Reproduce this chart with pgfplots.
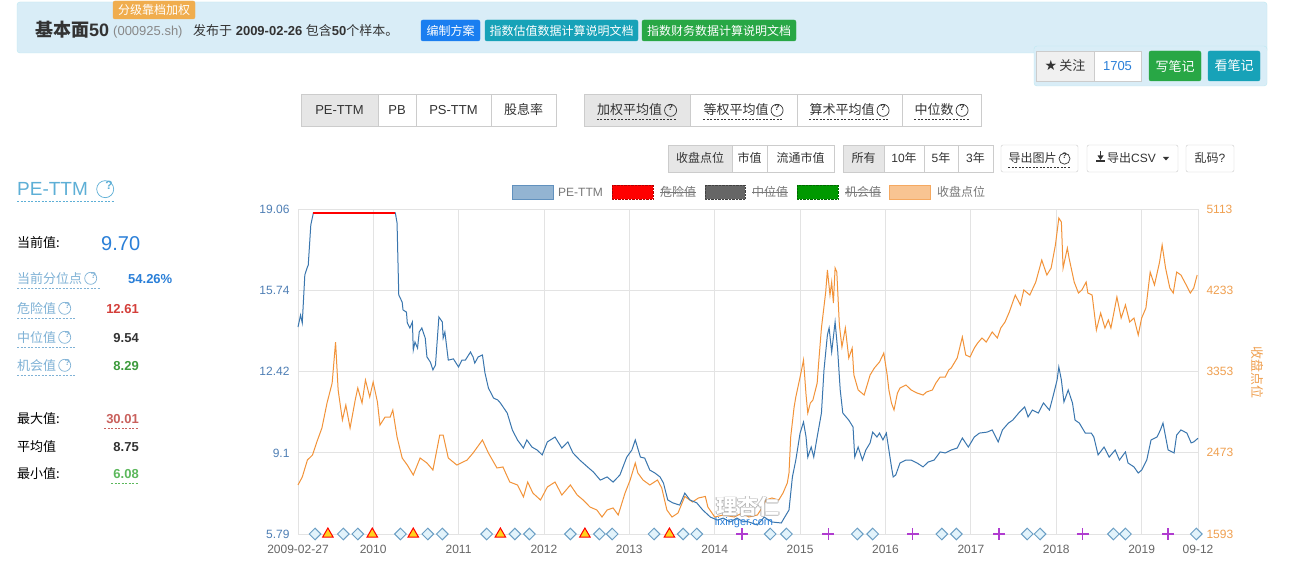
\documentclass[border=0pt]{standalone}
\usepackage{pgfplots}
\pgfplotsset{compat=1.18}
\usepackage{fontspec}
\setmainfont{Liberation Sans}
\newfontfamily\cjk{Noto Sans CJK SC}
\newfontfamily\dejavu{DejaVu Sans}
\newcommand\fs[1]{\fontsize{#1}{#1}\selectfont}
\definecolor{peblue}{HTML}{3A76AE}
\definecolor{closeor}{HTML}{F29339}
\definecolor{gridc}{HTML}{E3E3E3}
\definecolor{leftlab}{HTML}{4F7FB5}
\definecolor{rightlab}{HTML}{F0A050}
\definecolor{xlab}{HTML}{666666}
\definecolor{infobg}{HTML}{D9EDF7}
\definecolor{infobd}{HTML}{BCE8F1}
\definecolor{bd}{HTML}{CCCCCC}
\definecolor{act}{HTML}{E6E6E6}
\definecolor{txt}{HTML}{333333}
\definecolor{grey8}{HTML}{888888}
\definecolor{lblue}{HTML}{7FB2D6}
\definecolor{tblue}{HTML}{5DAFD6}
\definecolor{vblue}{HTML}{2A7FD8}
\definecolor{vred}{HTML}{D43F3A}
\definecolor{vred2}{HTML}{C9605C}
\definecolor{vgreen}{HTML}{3D9B3D}
\definecolor{vgreen2}{HTML}{5CB85C}
\definecolor{btnblue}{HTML}{1A7EF0}
\definecolor{btnteal}{HTML}{17A2B8}
\definecolor{btngreen}{HTML}{28A745}
\definecolor{badge}{HTML}{F0AD4E}
\definecolor{diafill}{HTML}{E2F3FB}
\definecolor{diaedge}{HTML}{6A9EC4}
\definecolor{triyel}{HTML}{FFD21F}
\definecolor{plusc}{HTML}{B03CD0}
\definecolor{legtxt}{HTML}{777777}
% circled question mark: color, radius, font size
\newcommand\qm[3]{\,\tikz[baseline=-0.36em]{\draw[#1,line width=0.7pt] (0,0) circle (#2pt); \node[text=#1,font=\fs{#3}\bfseries,inner sep=0] at (0,0) {?};}}

\pgfplotstableread{
x y
2009.12 2124
2009.17 2210
2009.23 2394
2009.29 2449
2009.34 2589
2009.40 2741
2009.46 3012
2009.52 3228
2009.56 3672
2009.59 3153
2009.64 2828
2009.68 2990
2009.73 2741
2009.79 3044
2009.82 3174
2009.87 3012
2009.91 3261
2009.96 3077
2010.00 3239
2010.05 3023
2010.08 2773
2010.14 2860
2010.20 2860
2010.23 2936
2010.28 2644
2010.34 2416
2010.40 2340
2010.47 2232
2010.55 2416
2010.63 2362
2010.70 2286
2010.78 2665
2010.82 2665
2010.88 2416
2010.98 2340
2011.10 2394
2011.17 2470
2011.28 2611
2011.35 2470
2011.45 2308
2011.52 2319
2011.60 2156
2011.69 2124
2011.76 1994
2011.81 2156
2011.87 2037
2011.96 1961
2012.04 2102
2012.13 2156
2012.21 2015
2012.31 2124
2012.39 2015
2012.46 1961
2012.54 1885
2012.62 1853
2012.68 1777
2012.74 1853
2012.81 1875
2012.87 1799
2012.95 2037
2013.01 2178
2013.07 2362
2013.10 2254
2013.16 2178
2013.24 2124
2013.33 2178
2013.38 2091
2013.44 1853
2013.50 1777
2013.57 1820
2013.65 2000
2013.74 1940
2013.81 1983
2013.89 2000
2013.92 1885
2014.00 1777
2014.10 1799
2014.23 1777
2014.32 1820
2014.40 1777
2014.50 1799
2014.56 1885
2014.60 1961
2014.67 1983
2014.75 1961
2014.80 2037
2014.85 2145
2014.87 2254
2014.89 2644
2014.93 2968
2014.95 3077
2015.00 3293
2015.04 3477
2015.07 3098
2015.09 2903
2015.12 3012
2015.15 3044
2015.20 3228
2015.22 3477
2015.25 3824
2015.30 4214
2015.32 4452
2015.35 4181
2015.37 4322
2015.39 4095
2015.41 4474
2015.43 4430
2015.46 3856
2015.49 3618
2015.53 3824
2015.57 3499
2015.61 3607
2015.63 3315
2015.68 3153
2015.75 3098
2015.82 3315
2015.87 3391
2015.93 3456
2015.98 3553
2016.02 3315
2016.04 3153
2016.07 3012
2016.10 2936
2016.14 3120
2016.17 3174
2016.24 3207
2016.30 3153
2016.37 3120
2016.44 3098
2016.48 3131
2016.55 3153
2016.59 3228
2016.64 3293
2016.70 3293
2016.74 3369
2016.77 3391
2016.84 3499
2016.90 3727
2016.94 3532
2016.99 3510
2017.04 3607
2017.08 3662
2017.13 3716
2017.18 3672
2017.25 3781
2017.31 3716
2017.35 3824
2017.40 3889
2017.45 3997
2017.52 4181
2017.58 4073
2017.62 4236
2017.69 4181
2017.76 4322
2017.83 4560
2017.89 4398
2017.94 4474
2017.99 4723
2018.03 5015
2018.06 4972
2018.08 4474
2018.13 4690
2018.15 4582
2018.21 4322
2018.26 4203
2018.30 4236
2018.35 4322
2018.37 4203
2018.42 4181
2018.47 3802
2018.52 3986
2018.57 3824
2018.61 3911
2018.64 3824
2018.71 4160
2018.76 3932
2018.81 4073
2018.86 3889
2018.91 3932
2018.96 3748
2019.00 3932
2019.05 4041
2019.10 4430
2019.15 4290
2019.21 4539
2019.24 4723
2019.28 4474
2019.33 4257
2019.37 4203
2019.41 4430
2019.46 4398
2019.51 4311
2019.57 4203
2019.61 4257
2019.65 4398
}\closetable

\pgfplotstableread{
x y
2009.12 14.24
2009.15 14.73
2009.17 14.41
2009.20 16.37
2009.23 16.69
2009.24 16.77
2009.27 18.41
2009.30 18.90
2010.26 18.90
2010.28 18.49
2010.30 15.55
2010.34 15.26
2010.35 14.94
2010.39 14.85
2010.40 14.41
2010.43 14.20
2010.46 14.45
2010.47 13.30
2010.49 13.63
2010.52 13.38
2010.54 14.04
2010.57 14.20
2010.61 13.79
2010.63 13.02
2010.67 12.81
2010.70 12.49
2010.73 12.69
2010.77 14.65
2010.81 14.45
2010.82 13.79
2010.84 14.04
2010.88 12.89
2010.94 12.94
2011.00 12.61
2011.04 12.89
2011.08 12.89
2011.14 13.22
2011.17 13.02
2011.19 12.77
2011.23 13.02
2011.28 13.10
2011.31 12.36
2011.35 11.75
2011.41 11.34
2011.46 11.26
2011.49 11.14
2011.57 10.73
2011.63 10.04
2011.69 9.63
2011.76 9.30
2011.80 9.63
2011.86 9.34
2011.92 9.22
2011.98 9.02
2012.04 9.55
2012.13 9.75
2012.21 9.30
2012.28 9.55
2012.34 9.10
2012.42 8.81
2012.51 8.53
2012.58 8.32
2012.66 7.99
2012.74 8.12
2012.81 7.91
2012.89 8.20
2012.97 8.93
2013.03 9.22
2013.07 9.63
2013.13 8.93
2013.18 8.89
2013.24 8.40
2013.30 8.28
2013.36 8.12
2013.40 7.87
2013.45 7.18
2013.51 7.06
2013.59 6.97
2013.65 7.46
2013.71 7.18
2013.79 7.06
2013.86 6.77
2013.95 6.48
2014.03 6.36
2014.10 6.44
2014.18 6.28
2014.26 6.44
2014.32 6.32
2014.40 6.28
2014.50 6.16
2014.58 6.48
2014.67 6.28
2014.78 6.24
2014.82 6.48
2014.87 6.77
2014.91 8.12
2014.95 8.81
2015.00 9.91
2015.04 10.36
2015.07 9.75
2015.09 8.93
2015.13 9.34
2015.16 8.93
2015.20 9.75
2015.25 10.73
2015.28 12.49
2015.32 13.92
2015.34 14.20
2015.37 13.22
2015.41 14.45
2015.44 13.30
2015.47 11.67
2015.50 10.73
2015.57 10.44
2015.62 10.16
2015.64 8.93
2015.68 9.34
2015.73 8.81
2015.77 9.22
2015.82 9.51
2015.85 9.95
2015.90 9.75
2015.93 9.91
2015.97 9.63
2016.01 9.91
2016.04 9.22
2016.07 8.53
2016.09 8.12
2016.12 8.20
2016.17 8.69
2016.24 8.81
2016.30 8.81
2016.37 8.69
2016.44 8.53
2016.50 8.73
2016.57 8.81
2016.64 9.14
2016.70 9.10
2016.77 9.22
2016.84 9.30
2016.90 9.71
2016.97 9.34
2017.04 9.75
2017.10 9.91
2017.19 9.95
2017.25 10.04
2017.32 9.55
2017.37 10.04
2017.44 10.32
2017.49 10.44
2017.56 10.73
2017.63 10.98
2017.67 10.57
2017.72 10.85
2017.79 10.73
2017.85 11.14
2017.92 10.85
2017.96 11.38
2018.01 12.08
2018.03 12.61
2018.06 12.08
2018.09 11.18
2018.14 11.67
2018.19 11.14
2018.22 10.44
2018.27 10.32
2018.34 9.91
2018.41 9.91
2018.44 9.75
2018.49 9.02
2018.56 9.34
2018.62 8.93
2018.69 9.22
2018.74 8.81
2018.81 9.14
2018.84 8.69
2018.91 8.53
2018.96 8.28
2019.00 8.40
2019.06 8.81
2019.11 9.63
2019.18 9.75
2019.22 10.04
2019.25 10.32
2019.31 9.22
2019.38 9.10
2019.41 9.83
2019.46 10.04
2019.53 9.91
2019.58 9.51
2019.61 9.55
2019.66 9.70
}\petable

\begin{document}
\begin{tikzpicture}[x=1pt,y=1pt]
\fill[white] (0,0) rectangle (1294,566);

% ---------- header ----------
\filldraw[fill=infobg, draw=infobd, rounded corners=3pt] (17,566-2) rectangle (1267,566-53);
\filldraw[fill=badge, draw=badge, rounded corners=2pt] (113,566-1) rectangle (195,566-19);
\node[text=white, font=\fs{12}\cjk, inner sep=0] at (154,566-10) {分级靠档加权};
\node[anchor=base west, inner sep=0, font=\fs{18}\bfseries, text=txt] at (35,566-37) {{\cjk 基本面}50};
\node[anchor=base west, inner sep=0, font=\fs{13}, text=grey8] at (113,566-36) {(000925.sh)};
\node[anchor=base west, inner sep=0, font=\fs{13}, text=txt] at (193,566-36) {{\cjk 发布于} \textbf{2009-02-26} {\cjk 包含}\textbf{50}{\cjk 个样本。}};
\filldraw[fill=btnblue, draw=btnblue, rounded corners=2pt] (421,566-20) rectangle (480,566-41);
\node[text=white, font=\fs{12}\cjk, inner sep=0] at (450.5,566-30.5) {编制方案};
\filldraw[fill=btnteal, draw=btnteal, rounded corners=2pt] (485,566-20) rectangle (638,566-41);
\node[text=white, font=\fs{12}\cjk, inner sep=0] at (561.5,566-30.5) {指数估值数据计算说明文档};
\filldraw[fill=btngreen, draw=btngreen, rounded corners=2pt] (642,566-20) rectangle (796,566-41);
\node[text=white, font=\fs{12}\cjk, inner sep=0] at (719,566-30.5) {指数财务数据计算说明文档};

% follow panel
\filldraw[fill=infobg, draw=infobd, rounded corners=3pt] (1034,566-46) rectangle (1267,566-86);
\filldraw[fill=act!60!white, draw=bd] (1036,566-51) rectangle (1094,566-81);
\node[font=\fs{13}, text=txt, inner sep=0] at (1065,566-66) {{\dejavu\fs{14}★}\,{\cjk 关注}};
\filldraw[fill=white, draw=bd] (1094,566-51) rectangle (1141,566-81);
\node[font=\fs{13}, text=vblue, inner sep=0] at (1117.5,566-66) {1705};
\filldraw[fill=btngreen, draw=btngreen, rounded corners=2pt] (1149,566-51) rectangle (1201,566-81);
\node[text=white, font=\fs{13}\cjk, inner sep=0] at (1175,566-66) {写笔记};
\filldraw[fill=btnteal, draw=btnteal, rounded corners=2pt] (1208,566-51) rectangle (1260,566-81);
\node[text=white, font=\fs{13}\cjk, inner sep=0] at (1234,566-66) {看笔记};

% button group 1
\filldraw[fill=act, draw=bd] (301,566-94) rectangle (378,566-126);
\draw[bd, fill=white] (378,566-94) rectangle (416,566-126);
\draw[bd, fill=white] (416,566-94) rectangle (491,566-126);
\draw[bd, fill=white] (491,566-94) rectangle (556,566-126);
\node[anchor=base, inner sep=0, font=\fs{13}, text=txt] at (339.5,566-115) {PE-TTM};
\node[anchor=base, inner sep=0, font=\fs{13}, text=txt] at (397,566-115) {PB};
\node[anchor=base, inner sep=0, font=\fs{13}, text=txt] at (453.5,566-115) {PS-TTM};
\node[anchor=base, inner sep=0, font=\fs{13}\cjk, text=txt] at (523.5,566-115) {股息率};
% button group 2
\filldraw[fill=act, draw=bd] (584,566-94) rectangle (690,566-126);
\draw[bd, fill=white] (690,566-94) rectangle (797,566-126);
\draw[bd, fill=white] (797,566-94) rectangle (902,566-126);
\draw[bd, fill=white] (902,566-94) rectangle (981,566-126);
\node[anchor=base, inner sep=0, font=\fs{13}, text=txt] (b1) at (637,566-115) {{\cjk 加权平均值}\qm{txt}{6}{8.5}};
\node[anchor=base, inner sep=0, font=\fs{13}, text=txt] (b2) at (743.5,566-115) {{\cjk 等权平均值}\qm{txt}{6}{8.5}};
\node[anchor=base, inner sep=0, font=\fs{13}, text=txt] (b3) at (849.5,566-115) {{\cjk 算术平均值}\qm{txt}{6}{8.5}};
\node[anchor=base, inner sep=0, font=\fs{13}, text=txt] (b4) at (941.5,566-115) {{\cjk 中位数}\qm{txt}{6}{8.5}};
\foreach \n in {b1,b2,b3,b4}{\draw[txt, line width=0.6pt, dash pattern=on 2pt off 1.5pt] ([yshift=-4pt]\n.base west) -- ([yshift=-4pt]\n.base east);}

% row 3
\filldraw[fill=act, draw=bd] (668,566-145) rectangle (732,566-172);
\draw[bd, fill=white] (732,566-145) rectangle (767,566-172);
\draw[bd, fill=white] (767,566-145) rectangle (834,566-172);
\node[anchor=base, inner sep=0, font=\fs{12}\cjk, text=txt] at (700,566-163) {收盘点位};
\node[anchor=base, inner sep=0, font=\fs{12}\cjk, text=txt] at (749.5,566-163) {市值};
\node[anchor=base, inner sep=0, font=\fs{12}\cjk, text=txt] at (800.5,566-163) {流通市值};
\filldraw[fill=act, draw=bd] (843,566-145) rectangle (884,566-172);
\draw[bd, fill=white] (884,566-145) rectangle (924,566-172);
\draw[bd, fill=white] (924,566-145) rectangle (958,566-172);
\draw[bd, fill=white] (958,566-145) rectangle (993,566-172);
\node[anchor=base, inner sep=0, font=\fs{12}\cjk, text=txt] at (863.5,566-163) {所有};
\node[anchor=base, inner sep=0, font=\fs{12}, text=txt] at (904,566-163) {10{\cjk 年}};
\node[anchor=base, inner sep=0, font=\fs{12}, text=txt] at (941,566-163) {5{\cjk 年}};
\node[anchor=base, inner sep=0, font=\fs{12}, text=txt] at (975.5,566-163) {3{\cjk 年}};
\draw[bd, fill=white, rounded corners=2pt] (1001,566-145) rectangle (1078,566-172);
\node[anchor=base, inner sep=0, font=\fs{12}, text=txt] (c1) at (1039.5,566-163) {{\cjk 导出图片}\qm{txt}{5.5}{8}};
\draw[txt, line width=0.6pt, dash pattern=on 2pt off 1.5pt] ([yshift=-4pt]c1.base west) -- ([yshift=-4pt]c1.base east);
\draw[bd, fill=white, rounded corners=2pt] (1087,566-145) rectangle (1178,566-172);
\fill[txt] (1096,566-160) rectangle (1105,566-162.5);
\fill[txt] (1097.5,566-155.5) -- (1103.5,566-155.5) -- (1100.5,566-160) -- cycle;
\fill[txt] (1099.6,566-151) rectangle (1101.4,566-156);
\node[anchor=base west, inner sep=0, font=\fs{12}, text=txt] at (1107,566-163) {{\cjk 导出}CSV};
\fill[txt] (1163,566-157) -- (1169,566-157) -- (1166,566-160.5) -- cycle;
\draw[bd, fill=white, rounded corners=2pt] (1186,566-145) rectangle (1234,566-172);
\node[anchor=base, inner sep=0, font=\fs{12}, text=txt] at (1210,566-163) {{\cjk 乱码}?};

% ---------- left panel ----------
\node[anchor=base west, inner sep=0, font=\fs{19}, text=tblue] (pt) at (17,566-196) {PE-TTM \qm{tblue}{8.5}{12}};
\draw[tblue, line width=0.6pt, dash pattern=on 2pt off 1.5pt] (17,566-201) -- (115,566-201);
\node[anchor=base west, inner sep=0, font=\fs{13}\cjk, text=black] at (17,566-248) {当前值:};
\node[anchor=base west, inner sep=0, font=\fs{20}, text=vblue] at (101,566-250) {9.70};
\node[anchor=base west, inner sep=0, font=\fs{13}, text=lblue] at (17,566-283) {{\cjk 当前分位点}\qm{lblue}{6}{8.5}};
\draw[lblue, line width=0.6pt, dash pattern=on 2pt off 1.5pt] (17,566-288) -- (101,566-288);
\node[anchor=base west, inner sep=0, font=\fs{13}\bfseries, text=vblue] at (128,566-283) {54.26\%};
\node[anchor=base west, inner sep=0, font=\fs{13}, text=lblue] at (17,566-313) {{\cjk 危险值}\qm{lblue}{6}{8.5}};
\draw[lblue, line width=0.6pt, dash pattern=on 2pt off 1.5pt] (17,566-318) -- (75,566-318);
\node[anchor=base east, inner sep=0, font=\fs{13}\bfseries, text=vred] at (139,566-313) {12.61};
\node[anchor=base west, inner sep=0, font=\fs{13}, text=lblue] at (17,566-342) {{\cjk 中位值}\qm{lblue}{6}{8.5}};
\draw[lblue, line width=0.6pt, dash pattern=on 2pt off 1.5pt] (17,566-347) -- (75,566-347);
\node[anchor=base east, inner sep=0, font=\fs{13}\bfseries, text=txt] at (139,566-342) {9.54};
\node[anchor=base west, inner sep=0, font=\fs{13}, text=lblue] at (17,566-370) {{\cjk 机会值}\qm{lblue}{6}{8.5}};
\draw[lblue, line width=0.6pt, dash pattern=on 2pt off 1.5pt] (17,566-375) -- (75,566-375);
\node[anchor=base east, inner sep=0, font=\fs{13}\bfseries, text=vgreen] at (139,566-370) {8.29};
\node[anchor=base west, inner sep=0, font=\fs{13}\cjk, text=black] at (17,566-423) {最大值:};
\node[anchor=base east, inner sep=0, font=\fs{13}\bfseries, text=vred2] at (139,566-423) {30.01};
\draw[vred2, line width=0.6pt, dash pattern=on 2pt off 1.5pt] (104,566-428) -- (139,566-428);
\node[anchor=base west, inner sep=0, font=\fs{13}\cjk, text=black] at (17,566-451) {平均值};
\node[anchor=base east, inner sep=0, font=\fs{13}\bfseries, text=txt] at (139,566-451) {8.75};
\node[anchor=base west, inner sep=0, font=\fs{13}\cjk, text=black] at (17,566-478) {最小值:};
\node[anchor=base east, inner sep=0, font=\fs{13}\bfseries, text=vgreen2] at (139,566-478) {6.08};
\draw[vgreen2, line width=0.6pt, dash pattern=on 2pt off 1.5pt] (111,566-483) -- (139,566-483);

% ---------- legend ----------
\filldraw[fill=peblue!55!white, draw=peblue!80!white] (512,566-185) rectangle (553,566-199);
\node[anchor=base west, inner sep=0, font=\fs{12}, text=legtxt] at (558,566-196.5) {PE-TTM};
\filldraw[fill=red, draw=red!70!black, densely dotted] (612,566-185) rectangle (653,566-199);
\node[anchor=base west, inner sep=0, font=\fs{12}\cjk, text=legtxt] (l2) at (660,566-196.5) {危险值};
\filldraw[fill=black!60, draw=black!75, densely dotted] (705,566-185) rectangle (745,566-199);
\node[anchor=base west, inner sep=0, font=\fs{12}\cjk, text=legtxt] (l3) at (752,566-196.5) {中位值};
\filldraw[fill=green!60!black, draw=green!40!black, densely dotted] (797,566-185) rectangle (838,566-199);
\node[anchor=base west, inner sep=0, font=\fs{12}\cjk, text=legtxt] (l4) at (845,566-196.5) {机会值};
\filldraw[fill=closeor!55!white, draw=closeor!80!white] (889,566-185) rectangle (930,566-199);
\node[anchor=base west, inner sep=0, font=\fs{12}\cjk, text=legtxt] at (937,566-196.5) {收盘点位};
\foreach \n in {l2,l3,l4}{\draw[legtxt, line width=0.7pt] ([yshift=4pt]\n.base west) -- ([yshift=4pt]\n.base east);}

% ---------- closing index axis (right) ----------
\begin{axis}[at={(298pt,32pt)}, anchor=south west, scale only axis,
  width=900pt, height=325pt,
  xmin=2009.12, xmax=2019.66, ymin=1593, ymax=5113,
  xtick={2009.12,2010,2011,2012,2013,2014,2015,2016,2017,2018,2019,2019.66},
  xticklabels={,,,,,,,,,,,},
  xticklabel style={opacity=0},
  ytick={1593,2473,3353,4233,5113},
  yticklabels={1593,2473,3353,4233,5113},
  yticklabel pos=right,
  grid=major, major grid style={gridc, line width=0.8pt},
  axis line style={draw=none}, major tick length=0pt,
  yticklabel style={font=\fs{12}, text=rightlab, xshift=5pt},
  clip=false]
\addplot[closeor, line width=1pt] table[x=x,y=y] {\closetable};
\end{axis}

% ---------- PE axis (left) ----------
\begin{axis}[at={(298pt,32pt)}, anchor=south west, scale only axis,
  width=900pt, height=325pt,
  xmin=2009.12, xmax=2019.66, ymin=5.79, ymax=19.06,
  xtick={2009.12,2010,2011,2012,2013,2014,2015,2016,2017,2018,2019,2019.66},
  xticklabels={2009-02-27,2010,2011,2012,2013,2014,2015,2016,2017,2018,2019,09-12},
  ytick={5.79,9.1,12.42,15.74,19.06},
  yticklabels={5.79,9.1,12.42,15.74,19.06},
  axis line style={draw=none}, major tick length=0pt,
  xticklabel style={font=\fs{12}, text=xlab, yshift=-8pt},
  yticklabel style={font=\fs{12}, text=leftlab, xshift=-5pt},
  clip=false]
\addplot[peblue, line width=1pt] table[x=x,y=y] {\petable};
\addplot[red, line width=1.2pt] coordinates {(2009.30,18.90) (2010.26,18.90)};
\addplot[only marks, mark=square*, mark size=4.1pt,
  mark options={rotate=45, fill=diafill, draw=diaedge, line width=1pt}]
  coordinates {(2009.32,5.79) (2009.65,5.79) (2009.82,5.79) (2010.32,5.79) (2010.64,5.79)
  (2010.81,5.79) (2011.33,5.79) (2011.66,5.79) (2011.83,5.79) (2012.31,5.79) (2012.65,5.79)
  (2012.80,5.79) (2013.29,5.79) (2013.63,5.79) (2013.79,5.79) (2014.65,5.79) (2014.84,5.79)
  (2015.67,5.79) (2015.85,5.79) (2016.66,5.79) (2016.83,5.79) (2017.66,5.79) (2017.81,5.79)
  (2018.67,5.79) (2018.81,5.79) (2019.64,5.79)};
\addplot[only marks, mark=triangle*, mark size=6pt,
  mark options={fill=triyel, draw=red, line width=1pt}]
  coordinates {(2009.47,5.79) (2009.99,5.79) (2010.47,5.79) (2011.49,5.79) (2012.48,5.79) (2013.47,5.79)};
\addplot[only marks, mark=+, mark size=6pt, mark options={draw=plusc, line width=1.3pt}]
  coordinates {(2014.32,5.79) (2015.33,5.79) (2016.32,5.79) (2017.33,5.79) (2018.31,5.79) (2019.31,5.79)};
\end{axis}

\node[rotate=-90, font=\fs{13}\cjk, text=rightlab] at (1257,566-372) {收盘点位};

% watermark
\foreach \dx/\dy in {-0.8/0,0.8/0,0/0.8,0/-0.8}{
  \node[font=\fs{21}\cjk\bfseries, text=black!40, opacity=0.6] at (748+\dx,566-507+\dy) {理杏仁};}
\node[font=\fs{21}\cjk\bfseries, text=white] at (748,566-507) {理杏仁};
\node[font=\fs{11}, text=vblue] at (744,566-523) {lixinger.com};
\end{tikzpicture}
\end{document}
